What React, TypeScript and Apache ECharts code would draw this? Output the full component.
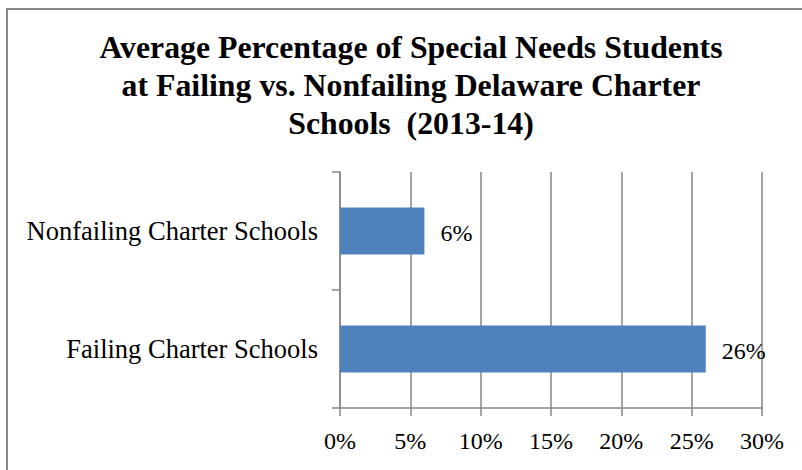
import React, { useEffect, useRef } from "react";
import * as echarts from "echarts";

const categories = ["Failing Charter Schools", "Nonfailing Charter Schools"];
const values = [26, 6];
const xTicks = { min: 0, max: 30, interval: 5 };
const titleLines = [
  "Average Percentage of Special Needs Students",
  "at Failing vs. Nonfailing Delaware Charter",
  "Schools  (2013-14)",
];

const FONT = '"Liberation Serif", "Times New Roman", serif';
const GRAY = "#868686";

export default function App() {
  const ref = useRef<HTMLDivElement>(null);
  useEffect(() => {
    const chart = echarts.init(ref.current!, null, { renderer: "svg" });
    chart.setOption({
      animation: false,
      backgroundColor: "#ffffff",
      title: {
        text: titleLines.join("\n"),
        left: 406,
        top: 23,
        textAlign: "center",
        textStyle: {
          fontFamily: FONT,
          fontWeight: "bold",
          fontSize: 31.8,
          lineHeight: 38,
          color: "#000",
        },
      },
      graphic: [
        {
          type: "rect",
          shape: { x: 7, y: 9, width: 820, height: 480 },
          style: { fill: "none", stroke: "#888888", lineWidth: 2 },
          silent: true,
        },
      ],
      grid: { left: 340, right: 40, top: 172, bottom: 62, containLabel: false },
      xAxis: {
        type: "value",
        min: xTicks.min,
        max: xTicks.max,
        interval: xTicks.interval,
        axisLine: { show: true, lineStyle: { color: GRAY, width: 1.5 } },
        axisTick: { show: true, length: 8, lineStyle: { color: GRAY, width: 1.5 } },
        splitLine: { show: true, lineStyle: { color: GRAY, width: 1.5 } },
        axisLabel: {
          formatter: "{value}%",
          fontFamily: FONT,
          fontSize: 24,
          color: "#000",
          margin: 21,
        },
      },
      yAxis: {
        type: "category",
        data: categories,
        axisLine: { show: true, lineStyle: { color: GRAY, width: 1.5 } },
        axisTick: { show: true, length: 8, lineStyle: { color: GRAY, width: 1.5 } },
        axisLabel: {
          fontFamily: FONT,
          fontSize: 26.5,
          color: "#000",
          margin: 22,
        },
      },
      series: [
        {
          type: "bar",
          data: values,
          barCategoryGap: "60%",
          itemStyle: { color: "#4F81BD" },
          label: {
            show: true,
            position: "right",
            distance: 16,
            offset: [0, 2],
            formatter: "{c}%",
            fontFamily: FONT,
            fontSize: 24,
            color: "#000",
          },
        },
      ],
    });
    return () => chart.dispose();
  }, []);
  return (
    <div
      ref={ref}
      style={{ position: "fixed", left: 0, top: 0, width: 802, height: 470 }}
    />
  );
}
